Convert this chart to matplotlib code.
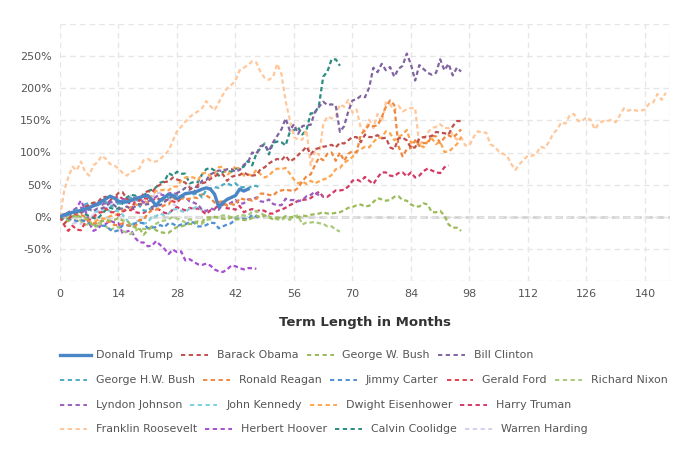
import matplotlib
matplotlib.use('Agg')
import matplotlib.pyplot as plt
from matplotlib.lines import Line2D

# ── Data: % change of the Dow since inauguration, one value per month ────────
trump = [0, 3, 5, 7, 8, 10, 12, 14, 17, 20, 24, 28, 32, 29, 24, 23, 23, 25, 28, 30,
         32, 33, 26, 17, 26, 30, 35, 33, 28, 32, 36, 37, 38, 40, 43, 45, 43, 35, 15, 22,
         27, 30, 33, 43, 40, 43]
obama = [0, -11, -4, 3, 7, 6, 15, 19, 22, 22, 30, 31,
         27, 30, 37, 38, 28, 23, 32, 26, 36, 40, 38, 46,
         50, 54, 55, 61, 58, 56, 53, 46, 37, 50, 52, 54,
         59, 63, 66, 66, 56, 62, 64, 65, 69, 65, 64, 65,
         74, 77, 83, 87, 90, 88, 95, 86, 90, 96, 102, 109,
         97, 105, 107, 109, 110, 112, 108, 115, 114, 119, 124, 124,
         116, 128, 124, 124, 127, 122, 123, 108, 105, 122, 123, 119,
         107, 108, 122, 124, 124, 126, 132, 131, 130, 128, 141, 149, 149]
gw_bush = [0, -1, -7, 1, 3, -1, -1, -6, -16, -14, -7, -5,
           -6, -5, -2, -6, -6, -13, -17, -18, -28, -21, -16, -21,
           -24, -25, -25, -20, -16, -15, -13, -11, -12, -7, -8, -1,
           -1, 0, -2, -3, -4, -1, -4, -4, -5, -5, -2, 2,
           -1, 2, -1, -4, -1, -3, 1, -1, 0, -1, 2, 1,
           3, 4, 5, 7, 5, 5, 6, 7, 10, 14, 15, 18,
           19, 16, 17, 23, 29, 27, 25, 26, 31, 32, 26, 25,
           19, 16, 16, 21, 19, 7, 7, 9, 2, -12, -17, -17, -22]
clinton = [0, 4, 6, 5, 9, 8, 9, 12, 9, 13, 13, 16,
           22, 18, 12, 13, 16, 12, 16, 20, 18, 20, 15, 18,
           18, 23, 28, 33, 37, 40, 45, 42, 47, 46, 56, 57,
           66, 69, 72, 71, 74, 74, 70, 73, 81, 85, 100, 98,
           110, 112, 102, 116, 126, 136, 153, 134, 144, 129, 141, 143,
           143, 163, 171, 179, 174, 175, 173, 132, 141, 164, 181, 183,
           188, 186, 201, 232, 225, 238, 228, 233, 218, 230, 235, 254,
           237, 212, 236, 230, 224, 221, 224, 245, 228, 238, 220, 232, 226]
ghw_bush = [0, 1, 3, 8, 11, 9, 19, 22, 20, 18, 21, 23,
            16, 18, 21, 19, 29, 29, 30, 17, 10, 9, 15, 18,
            22, 29, 30, 29, 35, 30, 35, 36, 35, 37, 30, 42,
            44, 46, 45, 50, 52, 49, 52, 46, 46, 44, 48, 48, 45]
reagan = [0, 3, 6, 5, 5, 3, 0, -7, -10, -10, -6, -8,
          -8, -13, -13, -10, -13, -14, -15, -5, -5, 5, 10, 11,
          14, 18, 19, 29, 27, 29, 27, 28, 30, 29, 35, 33,
          29, 22, 23, 24, 17, 20, 18, 29, 27, 27, 25, 28,
          36, 36, 34, 33, 39, 41, 42, 41, 40, 45, 55, 63,
          66, 80, 92, 88, 98, 100, 87, 100, 87, 98, 102, 100,
          128, 135, 143, 141, 142, 155, 171, 181, 174, 110, 94, 105,
          107, 119, 110, 115, 114, 126, 125, 115, 123, 127, 123, 129, 136]
carter = [0, -3, -4, -4, -7, -5, -7, -10, -12, -15, -14, -14,
          -20, -23, -21, -13, -13, -15, -10, -9, -10, -18, -17, -16,
          -13, -16, -10, -11, -15, -12, -12, -8, -9, -15, -15, -13,
          -9, -10, -18, -15, -12, -10, -3, -3, -3, -4, 3, 0, -1]
ford = [0, -13, -22, -14, -20, -21, -9, -5, -1, 6, 7, 13, 7, 7, 2, 8,
        11, 10, 25, 25, 29, 28, 25, 29, 27, 25, 27, 24, 22, 29]
nixon = [0, -4, 0, 1, 0, -7, -13, -11, -13, -9, -13, -15,
         -21, -17, -16, -22, -25, -27, -22, -18, -19, -19, -15, -11,
         -7, -6, -4, 0, -3, -5, -9, -4, -5, -11, -11, -5,
         -4, -1, 0, 2, 2, -1, -1, 3, 2, 2, 8, 9,
         6, 2, 1, -2, -4, -5, -1, -5, 1, 2, -12, -9,
         -9, -8, -10, -11, -15, -15, -20, -23]
johnson = [0, 3, 7, 10, 12, 14, 14, 15, 17, 18, 18, 23, 23, 23, 23,
           27, 27, 25, 30, 29, 22, 24, 26, 31, 35, 33, 36,
           38, 34, 30, 31, 24, 22, 19, 11, 9, 13, 11, 11,
           20, 18, 22, 26, 20, 21, 27, 27, 30, 24, 23, 27,
           20, 18, 18, 28, 26, 26, 24, 26, 32, 34, 39, 33, 32]
kennedy = [0, 2, 4, 5, 7, 5, 9, 11, 8, 8, 11, 13,
           8, 9, 9, 3, -5, -13, -8, -6, -11, -9, 0, 1,
           5, 2, 5, 11, 12, 9, 7, 13, 13, 17, 10]
eisenhower = [0, -2, -3, -5, -6, -7, -5, -10, -9, -5, -3, -3,
              1, 2, 5, 10, 13, 15, 20, 16, 25, 22, 34, 40,
              41, 42, 41, 47, 47, 56, 61, 62, 61, 57, 67, 69,
              63, 67, 77, 78, 65, 70, 79, 74, 64, 66, 64, 73,
              66, 61, 64, 71, 75, 74, 76, 67, 58, 52, 55, 51,
              56, 52, 55, 58, 60, 65, 74, 76, 84, 88, 93, 102,
              105, 109, 108, 116, 123, 123, 133, 130, 119, 124, 128, 135,
              115, 118, 113, 108, 117, 122, 113, 117, 101, 101, 107, 113, 124]
truman = [0, 3, 5, 3, 2, 9, 13, 17, 20, 20,
          28, 19, 25, 29, 32, 28, 25, 18, 7, 6, 6, 10,
          12, 13, 10, 6, 5, 11, 15, 12, 10, 14, 12, 13,
          9, 4, 10, 12, 19, 18, 13, 13, 11, 17, 7, 10,
          12, 8, 11, 9, 5, 5, 9, 11, 14, 18, 21, 25,
          26, 27, 29, 34, 39, 31, 31, 36, 41, 41, 42, 47,
          56, 58, 55, 62, 56, 51, 61, 69, 69, 64, 63, 68,
          69, 63, 69, 61, 64, 71, 75, 72, 69, 68, 77, 80]
roosevelt = [0, 40, 62, 78, 72, 86, 70, 64, 80, 85, 95, 90,
             82, 80, 75, 68, 64, 70, 72, 75, 88, 90, 86, 86,
             90, 96, 103, 118, 133, 140, 148, 155, 160, 164, 169, 180,
             172, 166, 178, 190, 200, 205, 212, 228, 232, 236, 242, 240,
             225, 216, 213, 218, 238, 222, 180, 151, 124, 120, 120, 135,
             80, 102, 96, 144, 156, 153, 156, 175, 171, 182, 162, 167,
             138, 133, 151, 138, 160, 147, 178, 175, 165, 173, 164, 167,
             169, 169, 111, 120, 131, 138, 140, 144, 138, 138, 127, 120,
             124, 111, 111, 124, 133, 131, 131, 113, 109, 102, 98, 95,
             82, 73, 82, 89, 95, 95, 98, 109, 107, 116, 129, 136,
             147, 145, 158, 160, 149, 149, 155, 151, 136, 145, 149, 149,
             151, 147, 158, 169, 165, 167, 165, 165, 167, 176, 178, 191,
             182, 193]
hoover = [0, 5, -3, 9, 14, 25, 12, -10, -22, -19,
          -12, -11, -6, -9, -10, -26, -23, -21, -33, -40, -40, -46,
          -45, -38, -44, -50, -58, -51, -55, -54, -68, -66, -70, -74,
          -75, -73, -76, -82, -85, -86, -82, -76, -77, -80, -82, -80,
          -80, -81]
coolidge = [0, -4, -4, 0, 3,
            9, 4, 1, -2, -3, 4, 11, 14, 12, 13, 21, 30,
            34, 33, 26, 32, 40, 42, 46, 53, 55, 68, 64, 70,
            67, 67, 52, 54, 54, 66, 74, 76, 72, 64, 70, 71,
            70, 75, 75, 78, 87, 80, 98, 107, 114, 97, 115, 117,
            116, 111, 132, 135, 139, 128, 135, 161, 161, 174, 218, 226,
            245, 245, 235]
harding = [0, 0, -3, -10, -10, -11, -5, -3, 3, 8, 8, 13, 19, 24, 28,
           24, 29, 33, 28, 29, 25, 32, 29, 37, 37, 28, 29, 20, 16]

names = ["Donald Trump", "Barack Obama", "George W. Bush", "Bill Clinton",
         "George H.W. Bush", "Ronald Reagan", "Jimmy Carter", "Gerald Ford",
         "Richard Nixon", "Lyndon Johnson", "John Kennedy", "Dwight Eisenhower",
         "Harry Truman", "Franklin Roosevelt", "Herbert Hoover", "Calvin Coolidge",
         "Warren Harding"]
series = [trump, obama, gw_bush, clinton, ghw_bush, reagan, carter, ford, nixon,
          johnson, kennedy, eisenhower, truman, roosevelt, hoover, coolidge, harding]
colors = ['#4a86c5', '#c0504d', '#9bbb59', '#8064a2', '#4bacc6', '#f0883e',
          '#4f8fd6', '#e0404f', '#a9c97a', '#9b5fc0', '#7ccfe0', '#ffa54f',
          '#d63a64', '#ffc79a', '#a64fd0', '#2b8c80', '#d5ccf0']

x_ticks = [0, 14, 28, 42, 56, 70, 84, 98, 112, 126, 140]
y_ticks = [-100, -50, 0, 50, 100, 150, 200, 250, 300]

# legend rows as in the reference: (row y px, indices of names)
legend_rows = [(355, [0, 1, 2, 3]),
               (380, [4, 5, 6, 7, 8]),
               (405, [9, 10, 11, 12]),
               (429, [13, 14, 15, 16])]

W, H = 700, 450
fig = plt.figure(figsize=(7, 4.5), dpi=100)
ax = fig.add_axes([60 / W, 1 - 281 / H, 610 / W, 257 / H])

for i in range(len(series) - 1, 0, -1):
    vals = series[i]
    ax.plot(range(len(vals)), vals, color=colors[i], lw=1.6,
            linestyle=(0, (2, 1.3)), zorder=3)
ax.plot(range(len(trump)), trump, color=colors[0], lw=2.4, zorder=5,
        solid_joinstyle='round')

ax.set_xlim(0, 146)
ax.set_ylim(-100, 300)
ax.set_xticks(x_ticks)
ax.set_yticks(y_ticks)
ax.set_yticklabels(['' if v in (-100, 300) else f"{v}%" for v in y_ticks])
ax.tick_params(length=0, labelsize=8, labelcolor='#555555', pad=6)
ax.grid(True, color='#e6e6e6', lw=1, linestyle=(0, (4, 3)), zorder=0)
ax.axvline(146, color='#e6e6e6', lw=1, linestyle=(0, (4, 3)), zorder=0)
ax.axhline(0, color='#cfcfcf', lw=1.8, linestyle=(0, (3, 1.5)), zorder=1)
for s in ax.spines.values():
    s.set_visible(False)
ax.set_xlabel("Term Length in Months", fontsize=9.5, fontweight='bold',
              color='#333333', labelpad=12)

# ── legend laid out as flowing rows ──────────────────────────────────────────
renderer = fig.canvas.get_renderer()
for ypx, idxs in legend_rows:
    yf = 1 - ypx / H
    xpx = 60
    for idx in idxs:
        if idx == 0:
            ln = Line2D([xpx / W, (xpx + 31) / W], [yf, yf], color=colors[idx], lw=2.4)
        else:
            ln = Line2D([xpx / W, (xpx + 27) / W], [yf, yf], color=colors[idx], lw=1.4,
                        linestyle=(0, (2.2, 1.8)))
        fig.add_artist(ln)
        t = fig.text((xpx + 36) / W, yf, names[idx], fontsize=7.9, color='#555555',
                     va='center')
        wpx = t.get_window_extent(renderer).width
        xpx += 36 + wpx + 8

fig.savefig('out.png', dpi=100, facecolor='white')
